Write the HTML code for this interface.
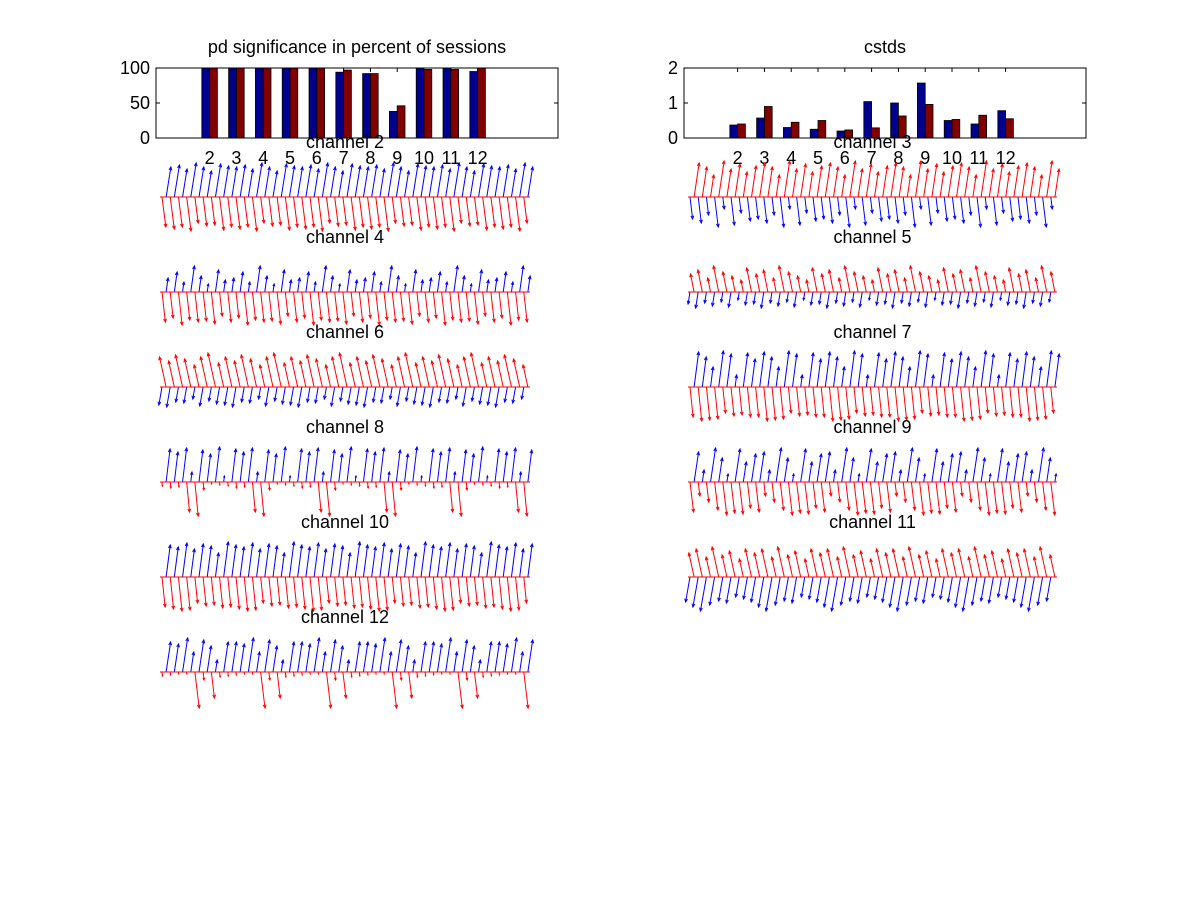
<!DOCTYPE html>
<html><head><meta charset="utf-8"><style>
body{margin:0;background:#fff;}
svg{display:block;font-family:"Liberation Sans",sans-serif;}
</style></head><body>
<svg id="fig" width="1200" height="901" viewBox="0 0 1200 901" xmlns="http://www.w3.org/2000/svg">
<rect width="1200" height="901" fill="#fff"/>
<g id="bars"></g>
<g id="quivers"></g>
</svg>
<script>
const categories=[2,3,4,5,6,7,8,9,10,11,12];
const pdBlue=[100,100,100,100,100,94,92,38,100,100,95];
const pdRed=[100,100,100,100,100,97,92,46,98,98,100];
const csBlue=[0.37,0.57,0.3,0.25,0.2,1.04,1.0,1.57,0.5,0.4,0.78];
const csRed=[0.4,0.9,0.45,0.5,0.23,0.29,0.63,0.96,0.53,0.65,0.55];
const pdTicks=[0,50,100];
const csTicks=[0,1,2];
const channelNames=["channel 2","channel 3","channel 4","channel 5","channel 6","channel 7","channel 8","channel 9","channel 10","channel 11","channel 12"];
const chTopColor=["b","r","b","r","r","b","b","b","b","r","b"];
const chTopLen=[[30,32,28,34,30,26,33,31],[34,30,22,36,28,33,25,31],[14,20,10,26,16,8,22,12],[18,22,14,26,20,16,12,24],[30,26,32,28,22,30,34,24],[35,30,20,36,33,12,34,28],[33,30,34,10,32,28,35,6],[30,12,34,24,8,33,20,28],[32,30,34,28,33,31,24,35],[24,28,20,30,22,26,18,28],[30,28,34,20,32,26,12,30]];
const chBotLen=[[30,34,28,32,26,33,30,29],[22,30,16,26,12,24,18,28],[30,28,32,26,30,24,33,29],[12,14,8,16,10,13,11,15],[18,16,14,20,12,17,15,19],[30,32,28,34,26,30,33,29],[4,30,2,6,34,3,5,8],[30,28,32,14,33,26,20,31],[30,33,28,32,26,31,34,29],[25,28,20,30,24,22,34,26],[4,2,26,3,36,5,2,8]];
const chSlant=[0.16,0.15,0.14,-0.2,-0.22,0.13,0.12,0.15,0.13,-0.22,0.15];

const NS="http://www.w3.org/2000/svg";
function mk(tag,attrs,parent){const e=document.createElementNS(NS,tag);for(const k in attrs)e.setAttribute(k,attrs[k]);parent.appendChild(e);return e;}
const colB="#00008f",colR="#800000";

function barChart(g,x0,y0,w,h,ymax,blue,red,ticks,title,name){
  const xs=v=>x0+v*(w/15), ys=v=>y0+h-v/ymax*h;
  const ax=mk('g',{},g);
  
  
  const t=mk('text',{x:x0+w/2,y:y0-15,'font-size':18,'text-anchor':'middle'},ax);t.textContent=title;
  
  
  categories.forEach((c,i)=>{
    const bw=0.29*(w/15);
    const rb=mk('rect',{x:xs(c)-bw,y:ys(blue[i]),width:bw,height:ys(0)-ys(blue[i]),fill:colB,stroke:'#000','stroke-width':0.8},ax);
    
    
    const rr=mk('rect',{x:xs(c),y:ys(red[i]),width:bw,height:ys(0)-ys(red[i]),fill:colR,stroke:'#000','stroke-width':0.8},ax);
    
    
    const lb=mk('text',{x:xs(c),y:y0+h+26,'font-size':18,'text-anchor':'middle'},ax);lb.textContent=c;
    
    
    mk('line',{x1:xs(c),x2:xs(c),y1:y0,y2:y0+4,stroke:'#000'},ax);
    mk('line',{x1:xs(c),x2:xs(c),y1:y0+h,y2:y0+h-4,stroke:'#000'},ax);
  });
  ticks.forEach(v=>{
    const tl=mk('text',{x:x0-6,y:ys(v)+6,'font-size':18,'text-anchor':'end'},ax);tl.textContent=v;
    
    
    mk('line',{x1:x0,x2:x0+4,y1:ys(v),y2:ys(v),stroke:'#000'},ax);
    mk('line',{x1:x0+w,x2:x0+w-4,y1:ys(v),y2:ys(v),stroke:'#000'},ax);
  });
  mk('rect',{x:x0,y:y0,width:w,height:h,fill:'none',stroke:'#000','stroke-width':1},ax);
}
const bg=document.getElementById('bars');
barChart(bg,156,68,402,70,100,pdBlue,pdRed,pdTicks,'pd significance in percent of sessions','pd-significance-chart');
barChart(bg,684,68,402,70,2,csBlue,csRed,csTicks,'cstds','cstds-chart');

function arrow(g,x,y,dx,dy,col){
  mk('line',{x1:x,y1:y,x2:x+dx,y2:y+dy,stroke:col,'stroke-width':1},g);
  const L=Math.hypot(dx,dy)||1,ux=dx/L,uy=dy/L,hl=Math.min(3.5,L*0.3);
  const ex=x+dx,ey=y+dy;
  mk('polyline',{points:`${ex-hl*(ux*0.9-uy*0.4)},${ey-hl*(uy*0.9+ux*0.4)} ${ex},${ey} ${ex-hl*(ux*0.9+uy*0.4)},${ey-hl*(uy*0.9-ux*0.4)}`,fill:'none',stroke:col,'stroke-width':1},g);
}
const qg=document.getElementById('quivers');
channelNames.forEach((nm,i)=>{
  const col=i%2, row=Math.floor(i/2);
  const x0=col?688:160, x1=col?1057:530, yb=197+row*95;
  const g=mk('g',{},qg);
  
  
  const top=chTopColor[i]==='b'?'#0000ff':'#ff0000', bot=chTopColor[i]==='b'?'#ff0000':'#0000ff';
  const n=45, sp=(x1-x0)/n, s=chSlant[i];
  for(let k=0;k<n;k++){
    const x=x0+2+k*sp;
    const tl=chTopLen[i][k%8], bl=chBotLen[i][(k*3)%8];
    arrow(g,x+sp*0.5,yb,s*tl,-tl,top);
    arrow(g,x,yb,s*bl*0.8,bl,bot);
  }
  mk('line',{x1:x0,x2:x1,y1:yb,y2:yb,stroke:'#ff0000','stroke-width':1},g);
  const t=mk('text',{x:(x0+x1)/2,y:yb-49,'font-size':18,'text-anchor':'middle'},g);t.textContent=nm;
  
  
});
</script>
</body></html>
